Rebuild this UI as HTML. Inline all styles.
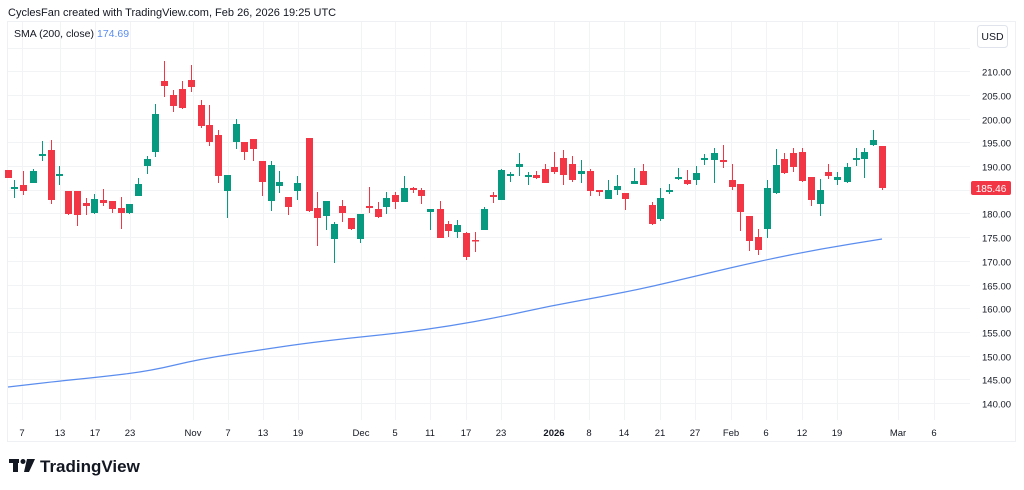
<!DOCTYPE html>
<html><head><meta charset="utf-8">
<style>
body{margin:0;background:#fff;width:1024px;height:490px;overflow:hidden;font-family:"Liberation Sans",sans-serif;}
svg{display:block}
</style></head><body>
<svg id="s" width="1024" height="490" xmlns="http://www.w3.org/2000/svg" font-family="Liberation Sans, sans-serif">
<rect x="0" y="0" width="1024" height="490" fill="#fff"/>
<text x="8" y="16" font-size="11" fill="#131722">CyclesFan created with TradingView.com, Feb 26, 2026 19:25 UTC</text>
<rect x="7.5" y="21.5" width="1008" height="420" fill="none" stroke="#eef0f3"/>
<g id="grid"></g>
<g id="c"></g>
<path id="sma" fill="none" stroke="#5b8def" stroke-width="1.2"/>
<text x="14" y="37" font-size="10.5" fill="#131722">SMA (200, close)</text>
<text x="97" y="37" font-size="10.5" fill="#5b8def">174.69</text>
<rect x="977.5" y="25.5" width="30" height="22" rx="3" fill="#fff" stroke="#e0e3eb"/>
<text x="992.5" y="40" font-size="10.5" fill="#131722" text-anchor="middle">USD</text>
<rect x="971" y="181" width="40" height="14" rx="2" fill="#f23645"/>
<text x="991" y="192" font-size="10" fill="#fff" text-anchor="middle">185.46</text>
<g fill="#131722">
<rect x="9" y="459" width="10" height="4"/><rect x="13" y="459" width="5" height="13"/>
<circle cx="23" cy="461.5" r="2.5"/><path d="M27 459 L35 459 L29 472 L24 472 Z"/>
<text x="40" y="472" font-size="17" font-weight="bold">TradingView</text>
</g>
</svg>
<script>
const NS="http://www.w3.org/2000/svg";
function el(p,t,a){const e=document.createElementNS(NS,t);for(const k in a)e.setAttribute(k,a[k]);p.appendChild(e);return e;}
const g=document.getElementById('grid');
const Y=p=>403-(p-140)*4.74;
for(let p=140;p<=215;p+=5){const y=Math.round(Y(p))+0.5;el(g,'line',{x1:8,x2:970,y1:y,y2:y,stroke:'#f2f3f5'});
 if(p<215&&p!==185){const t=el(g,'text',{x:982,y:y+4,'font-size':'9.5',fill:'#131722'});t.textContent=p.toFixed(2);}}
const xs=[[22,'7'],[60,'13'],[95,'17'],[130,'23'],[193,'Nov'],[228,'7'],[263,'13'],[298,'19'],[361,'Dec'],[395,'5'],[430,'11'],[466,'17'],[501,'23'],[554,'2026'],[589,'8'],[624,'14'],[660,'21'],[695,'27'],[731,'Feb'],[766,'6'],[802,'12'],[837,'19'],[898,'Mar'],[934,'6']];
xs.forEach(([x,l])=>{el(g,'line',{x1:x+.5,x2:x+.5,y1:22,y2:420,stroke:'#f2f3f5'});const t=el(g,'text',{x:x,y:436,'font-size':'9.5',fill:'#131722','text-anchor':'middle','font-weight':l=='2026'?'bold':'normal'});t.textContent=l;});
const C=[[8,170,178,170,178,0],[14,187,189,180,198,1],[23,185,191,171,195,0],[33,171,183,169,183,1],[42,154,156,141,161,1],[51,150,200,140,204,0],[59,174,176,166,185,1],[68,191,214,191,215,0],[77,191,215,191,226,0],[86,203,206,198,215,0],[94,199,213,194,214,1],[103,200,203,189,206,0],[112,201,209,201,213,0],[121,208,213,197,229,0],[129,204,213,204,214,1],[138,184,196,178,196,1],[147,159,166,156,174,1],[155,114,152,104,157,1],[164,81,86,61,97,0],[173,95,106,90,112,0],[182,89,108,81,109,0],[191,80,87,65,92,0],[201,105,126,100,128,0],[209,125,142,105,146,0],[218,135,176,130,183,0],[227,175,191,175,218,1],[236,124,142,119,149,1],[244,142,152,142,160,0],[253,139,149,139,161,0],[262,161,182,161,196,0],[271,165,201,161,211,1],[279,182,186,171,193,1],[288,197,207,197,215,0],[297,183,191,176,200,1],[309,138,211,138,212,0],[317,208,218,192,246,0],[326,201,216,201,230,1],[334,224,239,222,263,1],[342,206,213,200,222,0],[351,218,229,218,230,0],[360,214,239,214,243,1],[369,206,208,187,213,0],[378,209,217,202,218,0],[386,198,207,192,214,1],[395,195,202,192,209,0],[404,188,202,176,202,1],[413,188,190,187,193,0],[421,190,196,188,204,0],[430,209,212,209,230,1],[440,209,238,201,238,0],[448,224,231,221,237,0],[457,225,232,220,238,1],[466,233,257,232,260,0],[475,240,241,232,252,0],[484,209,230,207,230,1],[493,195,197,192,203,0],[501,170,200,169,200,1],[510,174,176,172,182,1],[519,164,167,153,176,1],[528,175,177,172,185,1],[536,175,178,171,179,0],[545,169,183,164,183,0],[554,167,172,152,174,0],[563,158,175,150,185,0],[572,164,180,156,182,0],[581,171,174,160,183,1],[590,171,191,169,196,0],[599,190,192,190,196,0],[608,190,199,180,199,1],[617,186,190,175,195,1],[625,193,199,193,210,0],[634,181,184,168,184,1],[643,171,185,164,185,0],[652,205,224,202,225,0],[660,198,219,188,221,1],[669,190,192,184,194,1],[678,177,179,168,180,1],[687,180,184,170,185,0],[696,173,180,166,185,1],[704,158,160,154,165,1],[714,153,160,148,183,1],[723,160,162,145,168,0],[732,180,187,164,190,0],[740,184,212,184,231,0],[749,216,241,216,251,0],[758,237,250,229,255,0],[767,188,229,180,238,1],[776,165,193,149,194,1],[784,159,173,153,174,0],[793,153,167,148,172,0],[802,152,181,148,182,0],[811,177,200,177,206,0],[820,190,204,179,216,1],[828,172,176,164,179,0],[837,177,180,172,185,1],[847,167,182,163,183,1],[856,158,160,148,166,1],[864,152,159,148,178,1],[873,140,145,130,146,1],[882,146,188,146,190,0]];
const c=document.getElementById('c');
C.forEach(([x,bt,bb,wt,wb,u])=>{const col=u?'#089981':'#f23645';
 el(c,'line',{x1:x+.5,x2:x+.5,y1:wt,y2:wb,stroke:col,'stroke-width':1});
 el(c,'rect',{x:x-3,y:bt,width:7,height:Math.max(1.5,bb-bt),fill:col});});
const P=[[8,387],[60,381],[100,377],[150,371],[200,359],[260,350],[300,344],[350,338],[400,333],[450,326],[500,317],[550,306],[600,297],[650,287],[700,275],[760,261],[820,249],[882,239]];
let d='M'+P[0].join(',');
for(let i=1;i<P.length;i++){const a=P[i-1],b=P[i];const mx=(a[0]+b[0])/2,my=(a[1]+b[1])/2;d+=' Q'+a[0]+','+a[1]+' '+mx+','+my;}
d+=' L'+P[P.length-1].join(',');
document.getElementById('sma').setAttribute('d',d);
</script>
</body></html>
